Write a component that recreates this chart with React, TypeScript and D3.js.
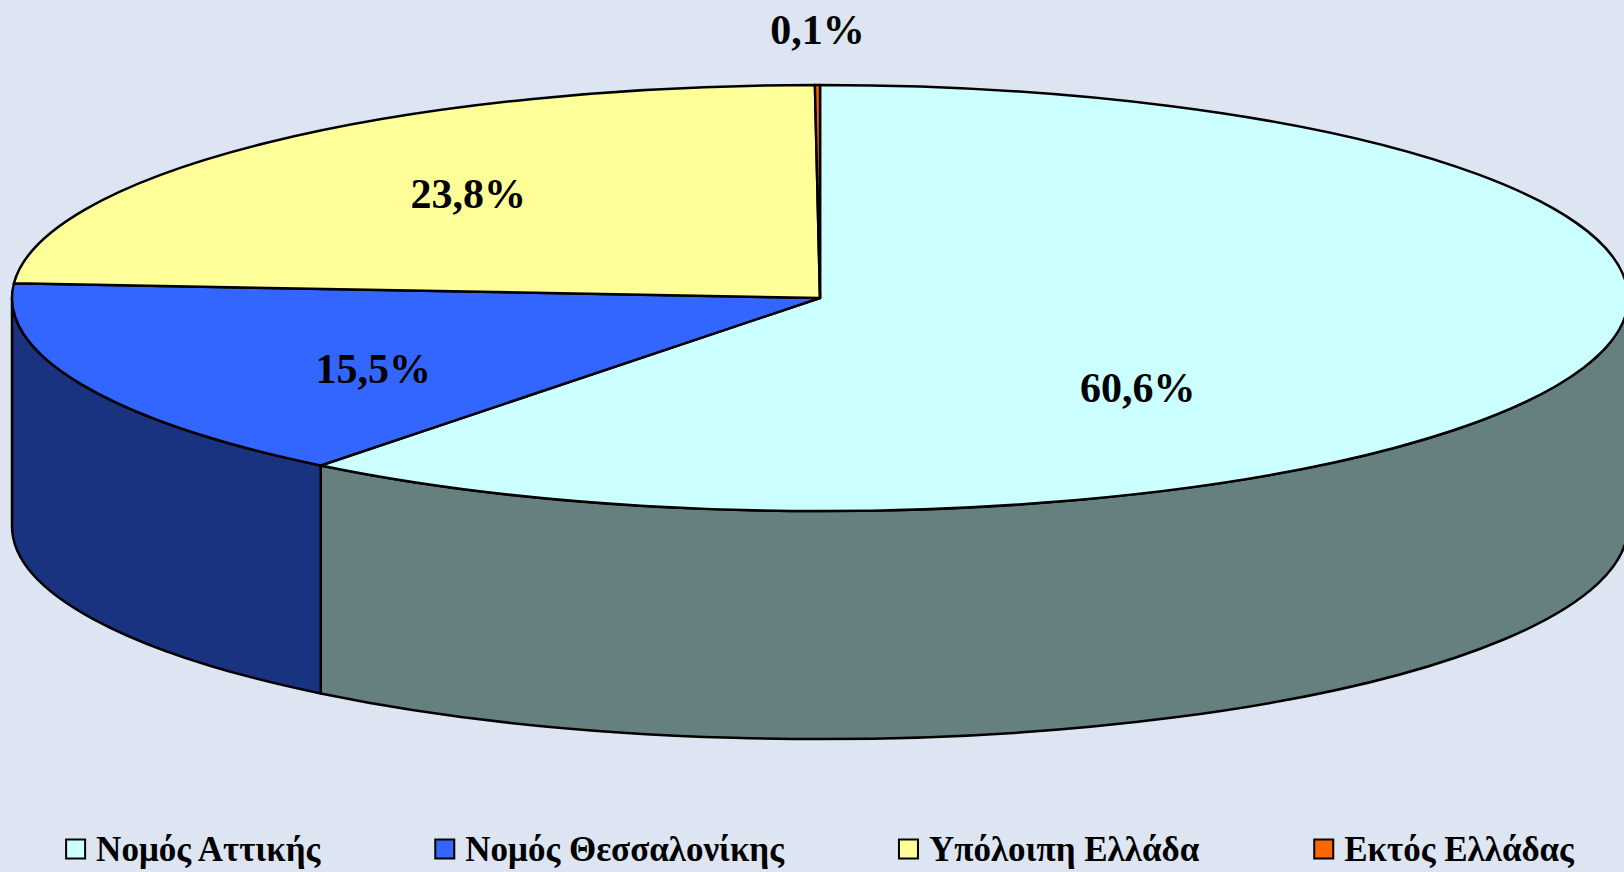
import React, { useEffect, useRef } from "react";
import * as d3 from "d3";

// Κατανομή ανά περιοχή (%)
const categories = ["Νομός Αττικής", "Νομός Θεσσαλονίκης", "Υπόλοιπη Ελλάδα", "Εκτός Ελλάδας"];
const shares = [60.6, 15.5, 23.8, 0.1];
const topColors = ["#CCFFFF", "#3366FF", "#FFFF99", "#FF6600"];
const sideColors = ["#668080", "#1A3380", "#80804D", "#803300"];
// label position as fraction of the ellipse radii (x, y)
const labelSpots = [
    [0.416, 1.28],
    [0.605, 0.81],
    [0.636, 0.676],
    [1, 1.26],
];

const W = 1624;
const H = 872;

const App = () => {
    const svgRef = useRef<SVGSVGElement>(null);

    useEffect(() => {
        const cx = 820;
        const cy = 298;
        const rx = 808;
        const ry = 213;
        const depth = 228;

        const svg = d3.select(svgRef.current);
        svg.selectAll("*").remove();

        svg.append("rect").attr("width", W).attr("height", H).attr("fill", "#DCE5F1");

        const pie = d3.pie<number>().sort(null).value((d) => d);
        const arcs = pie(shares);

        const pt = (a: number, dy = 0) => [cx + rx * Math.sin(a), cy - ry * Math.cos(a) + dy];

        const fmt = d3.formatLocale({
            decimal: ",",
            thousands: ".",
            grouping: [3],
            currency: ["", "€"],
        }).format(".1f");

        // side walls (only the front half is visible)
        const g = svg.append("g");
        arcs.forEach((a, i) => {
            const s = Math.max(a.startAngle, Math.PI / 2);
            const e = Math.min(a.endAngle, (3 * Math.PI) / 2);
            if (e <= s) return;
            const [x0, y0] = pt(s);
            const [x1, y1] = pt(e);
            const [x2, y2] = pt(e, depth);
            const [x3, y3] = pt(s, depth);
            g.append("path")
                .attr(
                    "d",
                    `M${x0},${y0}A${rx},${ry} 0 0 1 ${x1},${y1}L${x2},${y2}A${rx},${ry} 0 0 0 ${x3},${y3}Z`
                )
                .attr("fill", sideColors[i])
                .attr("stroke", "#000")
                .attr("stroke-width", 2.5)
                .attr("stroke-linejoin", "round");
        });

        // top faces
        arcs.forEach((a, i) => {
            const [x0, y0] = pt(a.startAngle);
            const [x1, y1] = pt(a.endAngle);
            const large = a.endAngle - a.startAngle > Math.PI ? 1 : 0;
            g.append("path")
                .attr("d", `M${cx},${cy}L${x0},${y0}A${rx},${ry} 0 ${large} 1 ${x1},${y1}Z`)
                .attr("fill", topColors[i])
                .attr("stroke", "#000")
                .attr("stroke-width", 2.5)
                .attr("stroke-linejoin", "round");
        });

        // labels
        arcs.forEach((a, i) => {
            const mid = (a.startAngle + a.endAngle) / 2;
            const [fx, fy] = labelSpots[i];
            svg.append("text")
                .attr("x", cx + rx * Math.sin(mid) * fx)
                .attr("y", cy - ry * Math.cos(mid) * fy)
                .attr("dy", "0.35em")
                .attr("text-anchor", "middle")
                .style("font-family", "'Liberation Serif', 'Times New Roman', serif")
                .style("font-weight", "bold")
                .style("font-size", "42px")
                .text(fmt(shares[i]) + "%");
        });

        // legend, centered under the pie
        const legend = svg.append("g").attr("transform", `translate(0, 849)`);
        const box = 19;
        const pad = 11;
        const gap = 115;
        const items = categories.map((c, i) => {
            const item = legend.append("g");
            item.append("rect")
                .attr("x", 0)
                .attr("y", -box / 2)
                .attr("width", box)
                .attr("height", box)
                .attr("fill", topColors[i])
                .attr("stroke", "#000")
                .attr("stroke-width", 2);
            const t = item
                .append("text")
                .attr("x", box + pad)
                .attr("y", 0)
                .attr("dy", "0.35em")
                .style("font-family", "'Liberation Serif', 'Times New Roman', serif")
                .style("font-weight", "bold")
                .style("font-size", "35px")
                .text(c);
            const w = (t.node() as SVGTextElement).getComputedTextLength();
            return { item, w: box + pad + w };
        });
        const total = d3.sum(items, (d) => d.w) + gap * (items.length - 1);
        let x = cx - total / 2;
        items.forEach((d) => {
            d.item.attr("transform", `translate(${x}, 0)`);
            x += d.w + gap;
        });
    }, []);

    return (
        <svg
            ref={svgRef}
            width={W}
            height={H}
            style={{ position: "absolute", left: 0, top: 0, display: "block" }}
        ></svg>
    );
};

export default App;
